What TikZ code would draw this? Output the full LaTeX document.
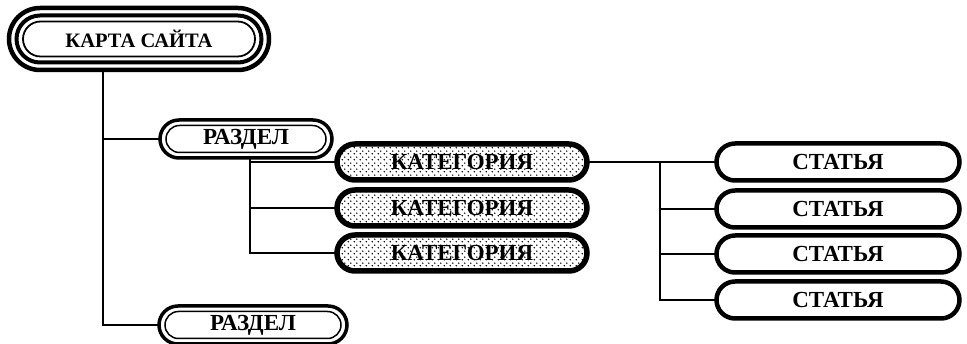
\documentclass[tikz,border=0pt]{standalone}
\usepackage{fontspec}
\setmainfont{Liberation Serif}
\usetikzlibrary{shapes.misc,patterns.meta}
\tikzdeclarepattern{
  name=sdots,
  type=uncolored,
  bounding box={(0pt,0pt) and (5.5pt,5.5pt)},
  tile size={(5.5pt,5.5pt)},
  code={\fill (1.375pt,1.375pt) circle (0.85pt); \fill (4.125pt,4.125pt) circle (0.85pt);}
}
\tikzset{
  pill/.style={shape=rounded rectangle, inner sep=0pt, outer sep=0pt},
  lbl/.style={font=\fontsize{20.5}{22}\selectfont\bfseries},
  lblb/.style={font=\fontsize{23}{25}\selectfont\bfseries},
  conn/.style={line width=1.3pt},
}
\begin{document}
\begin{tikzpicture}[x=1pt,y=-1pt]
\useasboundingbox (0,0) rectangle (967,344);
% top node
\node[pill, draw, line width=4.5pt, minimum width=260, minimum height=62] (map) at (139,39) {};
\node[pill, draw, line width=4pt, minimum width=245, minimum height=47] (mapm) at (139,39) {};
\node[pill, draw, line width=1.8pt, minimum width=232, minimum height=35, lbl] (mapi) at (139,39) {КАРТА САЙТА};
% sections
\node[pill, draw, line width=3.5pt, minimum width=172, minimum height=38] (r1) at (246,139) {};
\node[pill, draw, line width=1.5pt, minimum width=160, minimum height=27, lblb] (r1i) at (246,139) {РАЗДЕЛ};
\node[pill, draw, line width=3.5pt, minimum width=188, minimum height=38] (r2) at (253,325) {};
\node[pill, draw, line width=1.5pt, minimum width=176, minimum height=27, lblb] (r2i) at (253,325) {РАЗДЕЛ};
% categories
\foreach \n/\y in {c1/162,c2/208,c3/253}{
  \node[pill, draw, line width=5.5pt, minimum width=250, minimum height=36, pattern=sdots, lblb] (\n) at (462,\y) {КАТЕГОРИЯ};
}
% articles
\foreach \n/\y in {a1/162,a2/209,a3/254,a4/300}{
  \node[pill, draw, line width=4.5pt, minimum width=243, minimum height=37, fill=white, lblb] (\n) at (838,\y) {СТАТЬЯ};
}
% connectors
\coordinate (t0) at (103,40);
\draw[conn] (map.south -| t0) -- (t0 |- r2.west) -- (r2.west);
\draw[conn] (t0 |- r1.west) -- (r1.west);
\coordinate (s0) at (250,139);
\draw[conn] (r1.south -| s0) -- (s0 |- c3.west) -- (c3.west);
\draw[conn] (s0 |- c1.west) -- (c1.west);
\draw[conn] (s0 |- c2.west) -- (c2.west);
\coordinate (k0) at (660,162);
\draw[conn] (c1.east) -- (a1.west);
\draw[conn] (k0) -- (k0 |- a4.west) -- (a4.west);
\draw[conn] (k0 |- a2.west) -- (a2.west);
\draw[conn] (k0 |- a3.west) -- (a3.west);
\end{tikzpicture}
\end{document}
